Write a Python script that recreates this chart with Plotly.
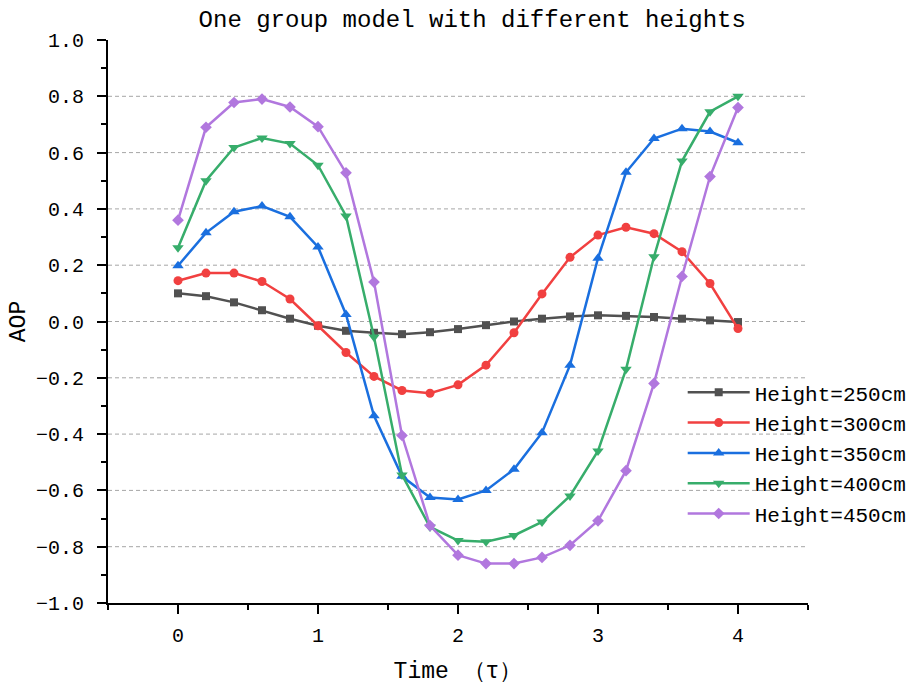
import plotly.graph_objects as go

# Time axis (in units of tau)
time = [0.0, 0.2, 0.4, 0.6, 0.8, 1.0, 1.2, 1.4, 1.6, 1.8, 2.0,
        2.2, 2.4, 2.6, 2.8, 3.0, 3.2, 3.4, 3.6, 3.8, 4.0]

aop_250 = [0.100, 0.090, 0.068, 0.040, 0.010, -0.015, -0.033, -0.040, -0.045, -0.038, -0.027,
           -0.013, 0.000, 0.010, 0.018, 0.022, 0.020, 0.016, 0.010, 0.004, -0.002]
aop_300 = [0.145, 0.172, 0.172, 0.142, 0.080, -0.015, -0.110, -0.195, -0.245, -0.255, -0.225,
           -0.155, -0.040, 0.098, 0.228, 0.307, 0.335, 0.312, 0.248, 0.135, -0.025]
aop_350 = [0.198, 0.315, 0.390, 0.410, 0.372, 0.265, 0.025, -0.335, -0.550, -0.625, -0.632,
           -0.600, -0.525, -0.395, -0.155, 0.225, 0.530, 0.650, 0.685, 0.675, 0.635]
aop_400 = [0.262, 0.500, 0.618, 0.652, 0.632, 0.555, 0.375, -0.055, -0.545, -0.730, -0.778,
           -0.782, -0.760, -0.712, -0.620, -0.460, -0.170, 0.230, 0.570, 0.745, 0.800]
aop_450 = [0.360, 0.690, 0.778, 0.790, 0.762, 0.692, 0.528, 0.140, -0.405, -0.725, -0.830,
           -0.860, -0.860, -0.838, -0.795, -0.708, -0.530, -0.220, 0.160, 0.515, 0.760]

series_names = ["Height=250cm", "Height=300cm", "Height=350cm", "Height=400cm", "Height=450cm"]
series_values = [aop_250, aop_300, aop_350, aop_400, aop_450]
colors = ["#515151", "#F14040", "#1A6FDF", "#37AD6B", "#B177DE"]
symbols = ["square", "circle", "triangle-up", "triangle-down", "diamond"]
marker_sizes = [8, 9, 10, 10, 9]

grid_levels = [-0.8, -0.6, -0.4, -0.2, 0.0, 0.2, 0.4, 0.6, 0.8]

FONT = "Courier New, Liberation Mono, monospace"

fig = go.Figure()
for name, vals, c, sym, ms in zip(series_names, series_values, colors, symbols, marker_sizes):
    fig.add_trace(go.Scatter(
        x=time, y=vals, name=name, mode="lines+markers",
        line=dict(color=c, width=2.5),
        marker=dict(symbol=sym, size=ms, color=c),
    ))

# dashed horizontal reference lines
for g in grid_levels:
    fig.add_shape(type="line", xref="paper", x0=0, x1=1, yref="y", y0=g, y1=g,
                  line=dict(color="#a6a6a6", width=1, dash="4px,3px"), layer="below")

fig.update_layout(
    width=917, height=688,
    margin=dict(l=108, r=109, t=40, b=85, autoexpand=False),
    paper_bgcolor="white", plot_bgcolor="white",
    font=dict(family=FONT, color="black", size=20),
    title=dict(text="One group model with different heights", x=0.515, xanchor="center",
               y=0.985, yanchor="top", font=dict(family=FONT, size=24, color="black")),
    legend=dict(x=0.821, y=0.41, xanchor="left", yanchor="top",
                bgcolor="rgba(0,0,0,0)", font=dict(family=FONT, size=21),
                itemwidth=62, tracegroupgap=0),
    showlegend=True,
)

fig.update_xaxes(
    range=[-0.5, 4.5], tickvals=[0, 1, 2, 3, 4], ticktext=["0", "1", "2", "3", "4"],
    showline=True, linecolor="black", linewidth=2,
    ticks="outside", ticklen=9, tickwidth=2, tickcolor="black",
    minor=dict(ticks="outside", tickvals=[-0.5, 0.5, 1.5, 2.5, 3.5, 4.5],
               ticklen=5, tickwidth=2, tickcolor="black", showgrid=False),
    showgrid=False, zeroline=False, automargin=False,
    title=dict(text="Time （τ）", font=dict(family=FONT, size=23), standoff=15),
    tickfont=dict(family=FONT, size=20),
    ticklabelstandoff=4,
)

fig.update_yaxes(
    range=[-1.0, 1.0], dtick=0.2, tick0=0, tickformat=".1f",
    showline=True, linecolor="black", linewidth=2,
    ticks="outside", ticklen=9, tickwidth=2, tickcolor="black",
    minor=dict(ticks="outside", dtick=0.1, tick0=0, ticklen=5, tickwidth=2,
               tickcolor="black", showgrid=False),
    showgrid=False, zeroline=False, automargin=False,
    title=dict(text="AOP", font=dict(family=FONT, size=23), standoff=4),
    tickfont=dict(family=FONT, size=20),
    ticklabelstandoff=9,
)

fig.write_html("out.html")
